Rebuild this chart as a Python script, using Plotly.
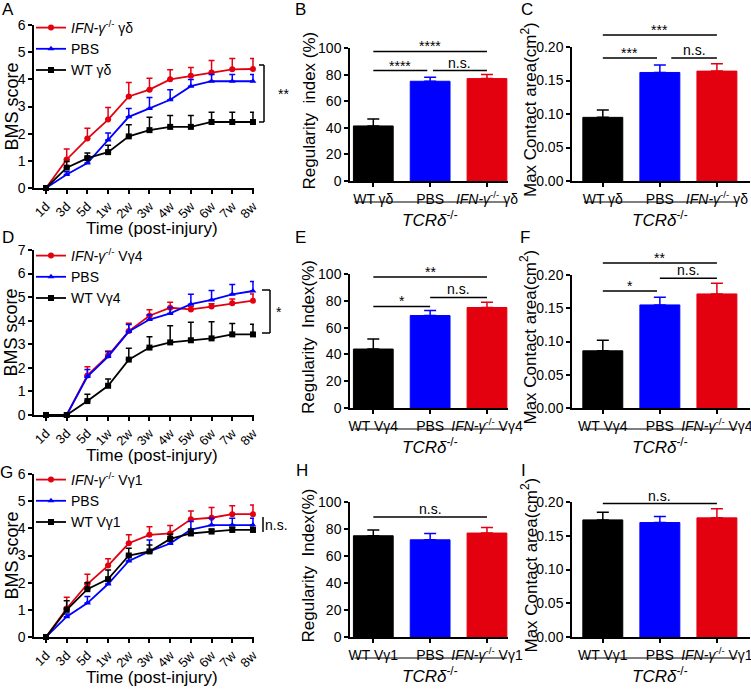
"""Spinal cord injury recovery: BMS curves and footprint bar panels (A-I)"""

import plotly.graph_objects as go

W, H = 751, 690
FONT = 'Liberation Sans, Arial, sans-serif'
RED = '#E3000F'
BLUE = '#0000FF'
BLACK = '#000000'

time_points = ['1d', '3d', '5d', '1w', '2w', '3w', '4w', '5w', '6w', '7w', '8w']

# panel A: gamma-delta transfer
a_ifn = [0, 1.05, 1.82, 2.52, 3.37, 3.62, 4.0, 4.13, 4.25, 4.37, 4.38]
a_ifn_err = [0, 0.39, 0.38, 0.44, 0.51, 0.42, 0.35, 0.31, 0.44, 0.40, 0.39]
a_pbs = [0, 0.5, 0.92, 1.77, 2.62, 2.93, 3.25, 3.75, 3.93, 3.93, 3.93]
a_pbs_err = [0, 0.1, 0.24, 0.25, 0.31, 0.4, 0.37, 0.24, 0.25, 0.25, 0.25]
a_wt = [0, 0.75, 1.1, 1.32, 1.9, 2.13, 2.25, 2.25, 2.43, 2.43, 2.43]
a_wt_err = [0, 0.23, 0.19, 0.25, 0.43, 0.47, 0.42, 0.42, 0.36, 0.36, 0.36]

# panel D: Vgamma4 transfer
d_ifn = [0, 0, 1.68, 2.52, 3.56, 4.21, 4.55, 4.48, 4.6, 4.74, 4.85]
d_ifn_err = [0, 0, 0.37, 0.2, 0.33, 0.25, 0.23, 0.12, 0.12, 0.18, 0.28]
d_pbs = [0, 0, 1.63, 2.48, 3.54, 4.05, 4.31, 4.7, 4.88, 5.12, 5.26]
d_pbs_err = [0, 0, 0.3, 0.2, 0.3, 0.2, 0.25, 0.42, 0.4, 0.42, 0.4]
d_wt = [0, 0, 0.59, 1.24, 2.35, 2.86, 3.08, 3.17, 3.25, 3.42, 3.42]
d_wt_err = [0, 0, 0.29, 0.29, 0.48, 0.46, 0.71, 0.76, 0.71, 0.46, 0.43]

# panel G: Vgamma1 transfer
g_ifn = [0, 1.05, 1.95, 2.63, 3.45, 3.76, 3.81, 4.33, 4.39, 4.52, 4.52]
g_ifn_err = [0, 0.41, 0.36, 0.25, 0.31, 0.3, 0.29, 0.31, 0.38, 0.31, 0.34]
g_pbs = [0, 0.75, 1.25, 1.95, 2.8, 3.15, 3.44, 3.95, 4.12, 4.12, 4.12]
g_pbs_err = [0, 0.1, 0.24, 0.15, 0.15, 0.42, 0.19, 0.3, 0.25, 0.25, 0.25]
g_wt = [0, 1.0, 1.76, 2.13, 3.0, 3.15, 3.61, 3.81, 3.88, 3.94, 3.94]
g_wt_err = [0, 0.33, 0.24, 0.34, 0.27, 0.24, 0.17, 0.17, 0.1, 0.1, 0.1]

# bar panels (mean, sem)
b_vals = [41.4, 75, 77]
b_err = [5.2, 3, 3]
c_vals = [0.095, 0.162, 0.164]
c_err = [0.011, 0.011, 0.011]
e_vals = [44, 69, 75]
e_err = [7.5, 3.8, 4]
f_vals = [0.086, 0.155, 0.1715]
f_err = [0.016, 0.0115, 0.016]
h_vals = [75, 72, 77]
h_err = [4.2, 4.7, 4.2]
i_vals = [0.1735, 0.1696, 0.1765]
i_err = [0.0115, 0.009, 0.0135]

IFN = '<i>IFN-γ</i><sup>-/-</sup>'
gd_groups = ['WT γδ', 'PBS', IFN + ' γδ']
v4_groups = ['WT Vγ4', 'PBS', IFN + ' Vγ4']
v1_groups = ['WT Vγ1', 'PBS', IFN + ' Vγ1']

fig = go.Figure()


def suffix(n):
    return '' if n == 1 else str(n)


def px_x(v):
    return v / W


def px_y(v):
    return 1 - v / H


def label(text, x, y, size=14, angle=0, xref='paper', yref='paper', yanchor='middle', yshift=0):
    fig.add_annotation(xref=xref, yref=yref, x=x, y=y, text=text, textangle=angle,
                       showarrow=False, xanchor='center', yanchor=yanchor, yshift=yshift,
                       font=dict(family=FONT, size=size, color='black'))


def axis_style(**kw):
    style = dict(showline=True, linecolor='black', linewidth=1.5, ticks='outside',
                 ticklen=4, tickwidth=1.5, tickcolor='black', showgrid=False,
                 zeroline=False, automargin=False,
                 tickfont=dict(family=FONT, size=14, color='black'))
    style.update(kw)
    return style


def line_panel(n, series, xpx, ypx, ymax, legend, legend_pos, groups):
    colors = [RED, BLUE, BLACK]
    symbols = ['circle', 'triangle-up', 'square']
    for (vals, errs), color, symbol, name in zip(series, colors, symbols, groups):
        fig.add_trace(go.Scatter(
            x=time_points, y=vals, name=name, mode='lines+markers',
            line=dict(color=color, width=1.8),
            marker=dict(symbol=symbol, size=6, color=color),
            error_y=dict(type='data', array=errs, arrayminus=[0] * len(errs),
                         symmetric=False, color=color, thickness=1.5, width=3),
            xaxis='x' + suffix(n), yaxis='y' + suffix(n), legend=legend,
            cliponaxis=False))
    fig.update_layout(**{
        'xaxis' + suffix(n): axis_style(
            domain=[px_x(xpx[0]), px_x(xpx[1])], anchor='y' + suffix(n),
            type='category', range=[-0.58, 10.05], tickangle=-45,
            tickfont=dict(family=FONT, size=13, color='black')),
        'yaxis' + suffix(n): axis_style(
            domain=[px_y(ypx[0]), px_y(ypx[1])], anchor='x' + suffix(n),
            range=[0, ymax], dtick=1),
        legend: dict(x=px_x(legend_pos[0]), y=px_y(legend_pos[1]), xanchor='left',
                     yanchor='top', bgcolor='rgba(0,0,0,0)',
                     font=dict(family=FONT, size=14, color='black')),
    })
    label('BMS score', px_x(11), px_y((ypx[0] + ypx[1]) / 2), size=18, angle=-90)
    label('Time (post-injury)', px_x(152), px_y(ypx[0] + 40), size=17)


def bar_panel(n, groups, vals, errs, xpx, ypx, xr, ymax, dtick, tickformat, ytitle, title_x, sigs):
    colors = [BLACK, BLUE, RED]
    for g, v, e, c in zip(groups, vals, errs, colors):
        fig.add_trace(go.Bar(
            x=[g], y=[v], width=0.7, marker=dict(color=c, line=dict(color=c, width=1)),
            error_y=dict(type='data', array=[e], arrayminus=[0], symmetric=False,
                         color=c, thickness=1.5, width=6),
            xaxis='x' + suffix(n), yaxis='y' + suffix(n), showlegend=False))
    fig.update_layout(**{
        'xaxis' + suffix(n): axis_style(
            domain=[px_x(xpx[0]), px_x(xpx[1])], anchor='y' + suffix(n),
            type='category', categoryarray=groups, categoryorder='array', range=xr),
        'yaxis' + suffix(n): axis_style(
            domain=[px_y(ypx[0]), px_y(ypx[1])], anchor='x' + suffix(n),
            range=[0, ymax], dtick=dtick, tickformat=tickformat),
    })
    label(ytitle, px_x(title_x), px_y((ypx[0] + ypx[1]) / 2 - 4), size=17, angle=-90)
    # TCR-delta group line below the categories
    fx = lambda v: (v - xr[0]) / (xr[1] - xr[0])
    xd, yd = 'x' + suffix(n) + ' domain', 'y' + suffix(n) + ' domain'
    line_y = px_y(ypx[0] + 21)
    fig.add_shape(type='line', xref=xd, yref='paper', x0=fx(-0.33), x1=fx(2.35),
                  y0=line_y, y1=line_y, line=dict(color='black', width=1))
    label('<i>TCRδ</i><sup>-/-</sup>', fx(1), px_y(ypx[0] + 38), size=17, xref=xd)
    # significance lines
    for x0, x1, y, text in sigs:
        fig.add_shape(type='line', xref=xd, yref=yd, x0=fx(x0), x1=fx(x1),
                      y0=y / ymax, y1=y / ymax, line=dict(color='black', width=1.5))
        label(text, fx((x0 + x1) / 2), y / ymax, xref=xd, yref=yd, yanchor='bottom',
              yshift=-5 if '*' in text else -2)


line_panel(1, [(a_ifn, a_ifn_err), (a_pbs, a_pbs_err), (a_wt, a_wt_err)],
           (34, 254), (188, 25), 6, 'legend', (31, 12),
           [IFN + ' γδ', 'PBS', 'WT γδ'])
line_panel(4, [(d_ifn, d_ifn_err), (d_pbs, d_pbs_err), (d_wt, d_wt_err)],
           (34, 254), (415, 250), 7, 'legend2', (31, 240),
           [IFN + ' Vγ4', 'PBS', 'WT Vγ4'])
line_panel(7, [(g_ifn, g_ifn_err), (g_pbs, g_pbs_err), (g_wt, g_wt_err)],
           (34, 254), (637, 474), 6, 'legend3', (31, 464),
           [IFN + ' Vγ1', 'PBS', 'WT Vγ1'])

LEFT_BARS = [-0.41, 2.37]
RIGHT_BARS = [-0.54, 2.58]
bar_panel(2, gd_groups, b_vals, b_err, (350, 508), (181, 48), LEFT_BARS, 100, 20, None,
          'Regularity  index (%)', 309,
          [(0, 2, 97.4, '****'), (0, 0.95, 83, '****'), (1.05, 2, 83, 'n.s.')])
bar_panel(3, gd_groups, c_vals, c_err, (572, 750), (181, 47), RIGHT_BARS, 0.2, 0.05, '.2f',
          'Max Contact area(cm<sup>2</sup>)', 529,
          [(0, 2, 0.218, '***'), (0, 0.95, 0.1836, '***'), (1.2, 2, 0.1836, 'n.s.')])
bar_panel(5, v4_groups, e_vals, e_err, (350, 508), (408, 274), LEFT_BARS, 100, 20, None,
          'Regularity  Index(%)', 308,
          [(0, 2, 97.8, '**'), (0, 1, 75.8, '*'), (1, 2, 82.5, 'n.s.')])
bar_panel(6, v4_groups, f_vals, f_err, (572, 750), (408, 275), RIGHT_BARS, 0.2, 0.05, '.2f',
          'Max Contact area(cm<sup>2</sup>)', 529,
          [(0, 2, 0.218, '**'), (0, 0.95, 0.176, '*'), (1, 2, 0.195, 'n.s.')])
bar_panel(8, v1_groups, h_vals, h_err, (350, 508), (637, 502), LEFT_BARS, 100, 20, None,
          'Regularity  Index(%)', 308,
          [(0, 2, 88.9, 'n.s.')])
bar_panel(9, v1_groups, i_vals, i_err, (572, 750), (637, 502), RIGHT_BARS, 0.2, 0.05, '.2f',
          'Max Contact area(cm<sup>2</sup>)', 529,
          [(0, 2, 0.1976, 'n.s.')])

# brackets at the right end of the BMS curves
brackets = [((65, 122), 264, 259, '**', 283), ((290, 333), 270, 262, '*', 279),
            ((517, 532), 263, None, 'n.s.', 276)]
for (top, bottom), xv, xtick, text, lx in brackets:
    fig.add_shape(type='line', xref='paper', yref='paper', x0=px_x(xv), x1=px_x(xv),
                  y0=px_y(top), y1=px_y(bottom), line=dict(color='black', width=1.5))
    if xtick is not None:
        for yy in (top, bottom):
            fig.add_shape(type='line', xref='paper', yref='paper', x0=px_x(xtick), x1=px_x(xv),
                          y0=px_y(yy), y1=px_y(yy), line=dict(color='black', width=1.5))
    label(text, px_x(lx), px_y((top + bottom) / 2))

# panel letters
letters = [('A', 8, 10), ('B', 300, 10), ('C', 527, 10), ('D', 8, 237), ('E', 300, 238),
           ('F', 525, 238), ('G', 6, 472), ('H', 302, 470), ('I', 523, 470)]
for letter, lx, ly in letters:
    label(letter, px_x(lx), px_y(ly), size=17)

fig.update_layout(
    width=W, height=H, margin=dict(l=0, r=0, t=0, b=0),
    paper_bgcolor='white', plot_bgcolor='white',
    font=dict(family=FONT, color='black'),
    bargap=0.3,
)

# drop the default page margin so the figure sits flush in the window
fig.write_html("out.html", config={'displayModeBar': False},
               post_script="document.body.style.margin = '0';")
